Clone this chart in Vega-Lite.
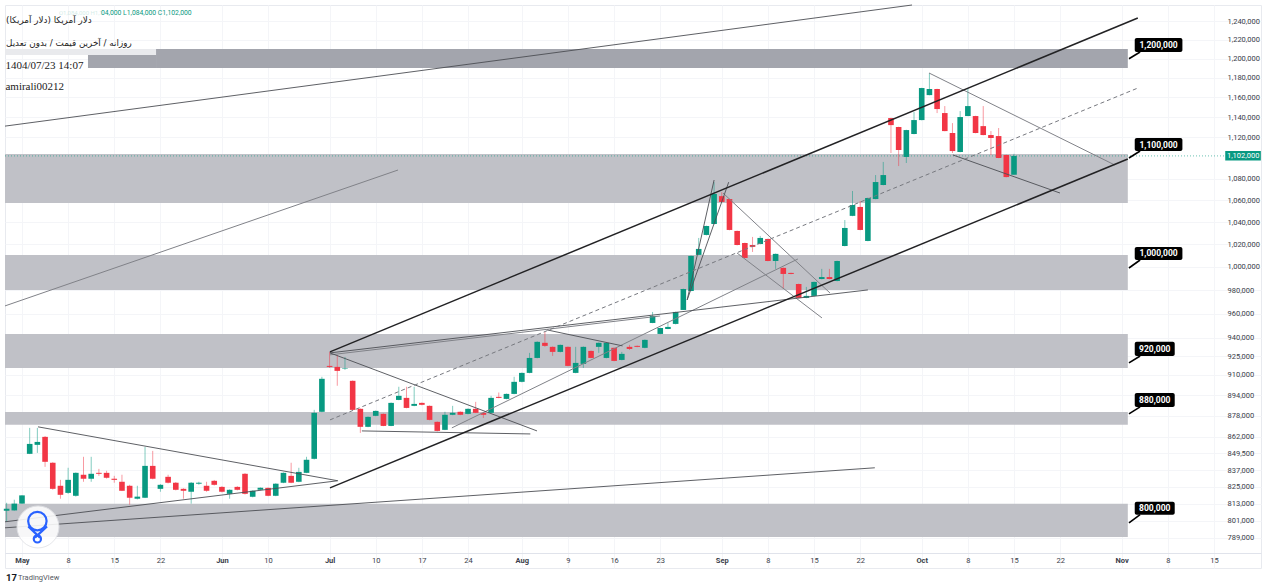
{
  "$schema": "https://vega.github.io/schema/vega-lite/v6.json",
  "description": "USD/IRR daily candles with price zones and trend channels",
  "width": 1256,
  "height": 563,
  "autosize": "none",
  "padding": {"left": 5, "top": 5, "right": 6, "bottom": 20},
  "background": "white",
  "config": {"view": {"stroke": "#e8eaef"}},
  "datasets": {
    "candles": [
      {"bar":-2,"open":808000,"high":813600,"low":800200,"close":809400},
      {"bar":-1,"open":808200,"high":815800,"low":808000,"close":813000},
      {"bar":0,"open":813000,"high":819000,"low":813000,"close":818900},
      {"bar":1,"open":849200,"high":868700,"low":849000,"close":856600},
      {"bar":2,"open":855900,"high":868700,"low":849900,"close":858100},
      {"bar":3,"open":861900,"high":862500,"low":839600,"close":843300},
      {"bar":4,"open":842600,"high":843000,"low":823000,"close":823600},
      {"bar":5,"open":825800,"high":830100,"low":816500,"close":819300},
      {"bar":6,"open":820700,"high":838900,"low":820000,"close":830100},
      {"bar":7,"open":818600,"high":835500,"low":818000,"close":835200},
      {"bar":8,"open":833800,"high":847000,"low":828700,"close":830900},
      {"bar":9,"open":830900,"high":847000,"low":828700,"close":834500},
      {"bar":10,"open":835200,"high":838100,"low":833000,"close":834500},
      {"bar":11,"open":835200,"high":836700,"low":831000,"close":831600},
      {"bar":12,"open":830900,"high":833000,"low":828000,"close":830100},
      {"bar":13,"open":828700,"high":833800,"low":822000,"close":822200},
      {"bar":14,"open":825800,"high":826500,"low":812300,"close":817200},
      {"bar":15,"open":816500,"high":825800,"low":816000,"close":818000},
      {"bar":16,"open":817200,"high":854400,"low":817000,"close":840300},
      {"bar":17,"open":840300,"high":851400,"low":830500,"close":830900},
      {"bar":18,"open":823600,"high":827000,"low":821500,"close":826500},
      {"bar":19,"open":832300,"high":833800,"low":827500,"close":828000},
      {"bar":20,"open":828000,"high":828500,"low":822500,"close":822900},
      {"bar":21,"open":823600,"high":824000,"low":816500,"close":822200},
      {"bar":22,"open":821500,"high":828500,"low":813000,"close":828000},
      {"bar":23,"open":827300,"high":828700,"low":826500,"close":828000},
      {"bar":24,"open":825800,"high":828700,"low":821500,"close":822200},
      {"bar":25,"open":829400,"high":830000,"low":826000,"close":826500},
      {"bar":26,"open":825000,"high":825500,"low":821000,"close":821500},
      {"bar":27,"open":820000,"high":823200,"low":816500,"close":822900},
      {"bar":28,"open":825000,"high":825500,"low":822500,"close":822900},
      {"bar":29,"open":834500,"high":835000,"low":819500,"close":820000},
      {"bar":30,"open":817900,"high":822500,"low":817500,"close":822200},
      {"bar":31,"open":822900,"high":824600,"low":822600,"close":824300},
      {"bar":32,"open":824300,"high":824600,"low":818300,"close":818600},
      {"bar":33,"open":818600,"high":827600,"low":818300,"close":827300},
      {"bar":34,"open":828000,"high":835500,"low":827700,"close":835200},
      {"bar":35,"open":833000,"high":842600,"low":827700,"close":828000},
      {"bar":36,"open":828700,"high":838900,"low":828400,"close":835900},
      {"bar":37,"open":835200,"high":847000,"low":835000,"close":844800},
      {"bar":38,"open":845500,"high":882500,"low":845000,"close":880200},
      {"bar":39,"open":881000,"high":908400,"low":880700,"close":906800},
      {"bar":40,"open":917100,"high":928400,"low":915500,"close":916300},
      {"bar":41,"open":916300,"high":925900,"low":901300,"close":913100},
      {"bar":42,"open":914700,"high":924300,"low":913900,"close":915100},
      {"bar":43,"open":905200,"high":905500,"low":882200,"close":882500},
      {"bar":44,"open":883300,"high":883600,"low":864900,"close":869500},
      {"bar":45,"open":869500,"high":877400,"low":869200,"close":877100},
      {"bar":46,"open":877900,"high":882000,"low":877600,"close":881700},
      {"bar":47,"open":879400,"high":879700,"low":870000,"close":870200},
      {"bar":48,"open":870200,"high":888200,"low":870000,"close":887900},
      {"bar":49,"open":890200,"high":900500,"low":890000,"close":893400},
      {"bar":50,"open":891800,"high":900500,"low":883700,"close":884000},
      {"bar":51,"open":885600,"high":900500,"low":885300,"close":887100},
      {"bar":52,"open":887900,"high":888200,"low":886000,"close":886400},
      {"bar":53,"open":885600,"high":885900,"low":874500,"close":874800},
      {"bar":54,"open":873300,"high":873600,"low":866000,"close":866400},
      {"bar":55,"open":867200,"high":881000,"low":867000,"close":878700},
      {"bar":56,"open":878700,"high":885600,"low":878400,"close":880200},
      {"bar":57,"open":881000,"high":881300,"low":878400,"close":878700},
      {"bar":58,"open":879400,"high":883600,"low":879000,"close":883300},
      {"bar":59,"open":883300,"high":888700,"low":880000,"close":880200},
      {"bar":60,"open":880200,"high":880500,"low":876300,"close":878700},
      {"bar":61,"open":880200,"high":893400,"low":880000,"close":891800},
      {"bar":62,"open":892600,"high":896000,"low":891500,"close":891800},
      {"bar":63,"open":891000,"high":895200,"low":890700,"close":894900},
      {"bar":64,"open":894900,"high":908400,"low":894600,"close":904400},
      {"bar":65,"open":904400,"high":911800,"low":904000,"close":911500},
      {"bar":66,"open":911500,"high":927600,"low":911200,"close":923500},
      {"bar":67,"open":923500,"high":937000,"low":923200,"close":936600},
      {"bar":68,"open":935800,"high":944700,"low":932500,"close":933300},
      {"bar":69,"open":932500,"high":932800,"low":925100,"close":928400},
      {"bar":70,"open":928400,"high":934400,"low":928000,"close":934100},
      {"bar":71,"open":932500,"high":932800,"low":916800,"close":917100},
      {"bar":72,"open":911500,"high":932500,"low":911200,"close":919500},
      {"bar":73,"open":918700,"high":932800,"low":915500,"close":932500},
      {"bar":74,"open":929200,"high":929500,"low":923200,"close":923500},
      {"bar":75,"open":932500,"high":936100,"low":927600,"close":935800},
      {"bar":76,"open":923500,"high":936100,"low":923200,"close":935800},
      {"bar":77,"open":931700,"high":932000,"low":920800,"close":921100},
      {"bar":78,"open":921900,"high":928400,"low":921600,"close":926800},
      {"bar":79,"open":932500,"high":934100,"low":930000,"close":930800},
      {"bar":80,"open":933300,"high":933600,"low":932200,"close":932500},
      {"bar":81,"open":931700,"high":938500,"low":931400,"close":938200},
      {"bar":82,"open":952200,"high":961400,"low":952000,"close":958000},
      {"bar":83,"open":943100,"high":948300,"low":942800,"close":948000},
      {"bar":84,"open":947200,"high":952200,"low":947000,"close":948900},
      {"bar":85,"open":951400,"high":961700,"low":951000,"close":961400},
      {"bar":86,"open":963100,"high":981200,"low":963000,"close":980900},
      {"bar":87,"open":979200,"high":1010000,"low":979000,"close":1009700},
      {"bar":88,"open":1010600,"high":1025700,"low":1010300,"close":1015900},
      {"bar":89,"open":1028400,"high":1036800,"low":1028000,"close":1036500},
      {"bar":90,"open":1038300,"high":1077000,"low":1038000,"close":1066000},
      {"bar":91,"open":1063900,"high":1067600,"low":1058000,"close":1058500},
      {"bar":92,"open":1061200,"high":1061500,"low":1032600,"close":1032900},
      {"bar":93,"open":1032000,"high":1032300,"low":1019000,"close":1019400},
      {"bar":94,"open":1021200,"high":1021500,"low":1007500,"close":1007900},
      {"bar":95,"open":1019400,"high":1026600,"low":1013200,"close":1017700},
      {"bar":96,"open":1020300,"high":1027500,"low":1020000,"close":1025700},
      {"bar":97,"open":1024800,"high":1025100,"low":1005000,"close":1005200},
      {"bar":98,"open":1005200,"high":1011800,"low":998300,"close":1011500},
      {"bar":99,"open":999200,"high":999500,"low":981000,"close":993900},
      {"bar":100,"open":994800,"high":995000,"low":993600,"close":993900},
      {"bar":101,"open":985200,"high":985500,"low":973000,"close":973300},
      {"bar":102,"open":973300,"high":982700,"low":973000,"close":975000},
      {"bar":103,"open":975000,"high":987300,"low":974700,"close":987000},
      {"bar":104,"open":989500,"high":998300,"low":989200,"close":991200},
      {"bar":105,"open":991200,"high":998300,"low":989200,"close":989500},
      {"bar":106,"open":987800,"high":1005500,"low":987500,"close":1005200},
      {"bar":107,"open":1018500,"high":1041900,"low":1018200,"close":1034700},
      {"bar":108,"open":1045700,"high":1068700,"low":1045400,"close":1055700},
      {"bar":109,"open":1053900,"high":1059400,"low":1032600,"close":1032900},
      {"bar":110,"open":1023000,"high":1062500,"low":1022700,"close":1062200},
      {"bar":111,"open":1061200,"high":1083700,"low":1061000,"close":1077100},
      {"bar":112,"open":1074300,"high":1096200,"low":1074000,"close":1083700},
      {"bar":113,"open":1139100,"high":1139400,"low":1104800,"close":1132100},
      {"bar":114,"open":1130200,"high":1130500,"low":1092300,"close":1107700},
      {"bar":115,"open":1101000,"high":1127500,"low":1095200,"close":1127200},
      {"bar":116,"open":1123300,"high":1145100,"low":1123000,"close":1137100},
      {"bar":117,"open":1137100,"high":1169700,"low":1136800,"close":1169400},
      {"bar":118,"open":1162200,"high":1184900,"low":1162000,"close":1168400},
      {"bar":119,"open":1168400,"high":1168700,"low":1144100,"close":1148100},
      {"bar":120,"open":1144100,"high":1151100,"low":1126000,"close":1126200},
      {"bar":121,"open":1124300,"high":1134100,"low":1104800,"close":1106700},
      {"bar":122,"open":1105800,"high":1146100,"low":1105500,"close":1140100},
      {"bar":123,"open":1141100,"high":1169400,"low":1141000,"close":1151100},
      {"bar":124,"open":1141100,"high":1141400,"low":1124000,"close":1124300},
      {"bar":125,"open":1131100,"high":1151100,"low":1122000,"close":1122300},
      {"bar":126,"open":1122300,"high":1126200,"low":1102900,"close":1119400},
      {"bar":127,"open":1121300,"high":1129200,"low":1099800,"close":1100000},
      {"bar":128,"open":1102900,"high":1103200,"low":1081500,"close":1081800},
      {"bar":129,"open":1084000,"high":1104000,"low":1084000,"close":1102000}
    ],
    "zones": [
      {"bar":17.43,"bar_end":143.8,"price":1210000,"price_end":1190000,"shade":"strong"},
      {"bar":8.58,"bar_end":17.43,"price":1203700,"price_end":1190000,"shade":"strong"},
      {"bar":-2.21,"bar_end":17.43,"price":1210000,"price_end":1203700,"shade":"faint"},
      {"bar":-2.21,"bar_end":143.8,"price":1103900,"price_end":1057500,"shade":"normal"},
      {"bar":-2.21,"bar_end":143.8,"price":1010600,"price_end":980000,"shade":"normal"},
      {"bar":-2.21,"bar_end":143.8,"price":943000,"price_end":915400,"shade":"normal"},
      {"bar":-2.21,"bar_end":143.8,"price":880900,"price_end":871000,"shade":"normal"},
      {"bar":-2.21,"bar_end":143.8,"price":813000,"price_end":789700,"shade":"normal"}
    ],
    "lines": [
      {"line":"a","kind":"thin","bar":-2.21,"price":1131100},
      {"line":"a","kind":"thin","bar":115.74,"price":1257500},
      {"line":"b","kind":"pale","bar":-2.21,"price":966500},
      {"line":"b","kind":"pale","bar":48.9,"price":1088500},
      {"line":"c","kind":"channel","bar":40.05,"price":928400},
      {"line":"c","kind":"channel","bar":145.1,"price":1243300},
      {"line":"d","kind":"channel","bar":40.05,"price":824300},
      {"line":"d","kind":"channel","bar":143.8,"price":1099000},
      {"line":"e","kind":"median","bar":40.05,"price":874800},
      {"line":"e","kind":"median","bar":145.1,"price":1169400},
      {"line":"f","kind":"thin","bar":-2.21,"price":800200},
      {"line":"f","kind":"thin","bar":41,"price":829400},
      {"line":"g","kind":"thin","bar":-2.21,"price":796000},
      {"line":"g","kind":"thin","bar":110.9,"price":838900},
      {"line":"h","kind":"thin","bar":2.08,"price":869500},
      {"line":"h","kind":"thin","bar":41.1,"price":829400},
      {"line":"i","kind":"thin","bar":40.05,"price":927600},
      {"line":"i","kind":"thin","bar":66.97,"price":866400},
      {"line":"j","kind":"thin","bar":40.05,"price":927600},
      {"line":"j","kind":"thin","bar":110,"price":980100},
      {"line":"k","kind":"pale","bar":40.05,"price":926000},
      {"line":"k","kind":"pale","bar":82.96,"price":958000},
      {"line":"l","kind":"thin","bar":44.2,"price":866400},
      {"line":"l","kind":"thin","bar":66.1,"price":864100},
      {"line":"m","kind":"thin","bar":68.3,"price":946400},
      {"line":"m","kind":"thin","bar":78.1,"price":933300},
      {"line":"n","kind":"pale","bar":55.9,"price":868700},
      {"line":"n","kind":"pale","bar":100.9,"price":1007000},
      {"line":"o","kind":"thin","bar":86.5,"price":971600},
      {"line":"o","kind":"thin","bar":90,"price":1079000},
      {"line":"p","kind":"thin","bar":86.5,"price":971600},
      {"line":"p","kind":"thin","bar":91.9,"price":1077000},
      {"line":"q","kind":"pale","bar":91.16,"price":1066800},
      {"line":"q","kind":"pale","bar":105.07,"price":977500},
      {"line":"r","kind":"pale","bar":92.98,"price":1012300},
      {"line":"r","kind":"pale","bar":104.03,"price":956400},
      {"line":"s","kind":"pale","bar":117.95,"price":1184900},
      {"line":"s","kind":"pale","bar":142.1,"price":1093300},
      {"line":"t","kind":"thin","bar":121.06,"price":1102900},
      {"line":"t","kind":"thin","bar":134.98,"price":1066800},
      {"line":"u","kind":"callout","bar":143.95,"price":1199700},
      {"line":"u","kind":"callout","bar":145.4,"price":1206800},
      {"line":"v","kind":"callout","bar":143.95,"price":1100000},
      {"line":"v","kind":"callout","bar":145.4,"price":1106700},
      {"line":"w","kind":"callout","bar":143.95,"price":999100},
      {"line":"w","kind":"callout","bar":145.4,"price":1006100},
      {"line":"x","kind":"callout","bar":143.95,"price":919500},
      {"line":"x","kind":"callout","bar":145.4,"price":925100},
      {"line":"y","kind":"callout","bar":143.95,"price":879400},
      {"line":"y","kind":"callout","bar":145.4,"price":884800},
      {"line":"z","kind":"callout","bar":143.95,"price":799500},
      {"line":"z","kind":"callout","bar":145.4,"price":805200}
    ],
    "tags": [
      {"bar":144.7,"bar_end":150.9,"price":1221700,"price_end":1206800},
      {"bar":144.7,"bar_end":150.9,"price":1119300,"price_end":1106700},
      {"bar":144.7,"bar_end":150.9,"price":1017700,"price_end":1006100},
      {"bar":144.7,"bar_end":149.9,"price":936600,"price_end":925100},
      {"bar":144.7,"bar_end":149.9,"price":895700,"price_end":884800},
      {"bar":144.7,"bar_end":149.9,"price":814400,"price_end":805200}
    ],
    "tag_labels": [
      {"label":"1,200,000","bar":147.8,"price":1214200},
      {"label":"1,100,000","bar":147.8,"price":1113000},
      {"label":"1,000,000","bar":147.8,"price":1011900},
      {"label":"920,000","bar":147.3,"price":930800},
      {"label":"880,000","bar":147.3,"price":890200},
      {"label":"800,000","bar":147.3,"price":809800}
    ],
    "logo": [
      {"part":"left","bar":0.82,"price":797000},
      {"part":"left","bar":2.34,"price":789200},
      {"part":"right","bar":3.25,"price":797000},
      {"part":"right","bar":1.69,"price":789200}
    ]
  },
  "encoding": {
    "x": {
      "field": "bar",
      "type": "quantitative",
      "title": null,
      "scale": {"domain": [-2.21, 161.12], "nice": false, "zero": false, "padding": 0},
      "axis": {
        "orient": "bottom",
        "offset": -15,
        "values": [0,6,12,18,26,32,40,46,52,58,65,71,77,83,91,97,103,109,117,123,129,135,143,149,155],
        "labelExpr": "{'0':'May','6':'8','12':'15','18':'22','26':'Jun','32':'10','40':'Jul','46':'10','52':'17','58':'24','65':'Aug','71':'9','77':'16','83':'23','91':'Sep','97':'8','103':'15','109':'22','117':'Oct','123':'8','129':'15','135':'22','143':'Nov','149':'8','155':'15'}[datum.value]",
        "labelFontWeight": {"condition": {"test": "indexof([0,26,40,65,91,117,143], datum.value) >= 0", "value": "bold"}, "value": "normal"},
        "labelFont": "Roboto",
        "labelFontSize": 7.5,
        "labelColor": "#3a3e4a",
        "labelPadding": 3,
        "labelFlush": false,
        "ticks": false,
        "domainColor": "#e0e3eb",
        "grid": true,
        "gridColor": "#f4f5f8"
      }
    },
    "y": {
      "field": "price",
      "type": "quantitative",
      "title": null,
      "scale": {"type": "log", "domain": [768500, 1257500], "nice": false, "zero": false},
      "axis": {
        "orient": "right",
        "offset": -39,
        "values": [1240000,1220000,1200000,1180000,1160000,1140000,1120000,1080000,1060000,1040000,1020000,1000000,980000,960000,940000,925000,910000,894000,878000,862000,849500,837000,825000,813000,801000,789000],
        "format": ",",
        "labelFont": "Roboto",
        "labelFontSize": 7.5,
        "labelColor": "#3a3e4a",
        "labelPadding": 5,
        "ticks": false,
        "domain": false,
        "grid": true,
        "gridColor": "#f4f5f8"
      }
    }
  },
  "layer": [
    {
      "data": {"name": "zones"},
      "mark": {"type": "rect"},
      "encoding": {
        "x2": {"field": "bar_end"},
        "y2": {"field": "price_end"},
        "color": {
          "field": "shade",
          "type": "nominal",
          "legend": null,
          "scale": {"domain": ["strong", "normal", "faint"], "range": ["#a3a5ad", "#c0c1c7", "#e9eaed"]}
        }
      }
    },
    {
      "data": {"values": [{"bar": -2.21, "bar_end": 156.5, "price": 1102000}]},
      "mark": {"type": "rule", "color": "#089981", "opacity": 0.6, "strokeWidth": 1, "strokeDash": [1, 2]},
      "encoding": {"x2": {"field": "bar_end"}}
    },
    {
      "data": {"name": "candles"},
      "mark": {"type": "rule", "strokeWidth": 1, "opacity": 0.5},
      "encoding": {
        "y": {"field": "low", "type": "quantitative", "title": null, "scale": {"type": "log", "domain": [768500, 1257500], "nice": false, "zero": false}},
        "y2": {"field": "high"},
        "color": {"condition": {"test": "datum.close >= datum.open", "value": "#089981"}, "value": "#f23645"}
      }
    },
    {
      "data": {"name": "candles"},
      "mark": {"type": "bar", "size": 5.6},
      "encoding": {
        "y": {"field": "open", "type": "quantitative", "title": null, "scale": {"type": "log", "domain": [768500, 1257500], "nice": false, "zero": false}},
        "y2": {"field": "close"},
        "color": {"condition": {"test": "datum.close >= datum.open", "value": "#089981"}, "value": "#f23645"}
      }
    },
    {
      "data": {"name": "lines"},
      "transform": [{"filter": "datum.kind === 'pale'"}],
      "mark": {"type": "line", "color": "#808288", "strokeWidth": 1},
      "encoding": {"detail": {"field": "line"}}
    },
    {
      "data": {"name": "lines"},
      "transform": [{"filter": "datum.kind === 'thin'"}],
      "mark": {"type": "line", "color": "#4c4e54", "strokeWidth": 0.9},
      "encoding": {"detail": {"field": "line"}}
    },
    {
      "data": {"name": "lines"},
      "transform": [{"filter": "datum.kind === 'median'"}],
      "mark": {"type": "line", "color": "#77797f", "strokeWidth": 1, "strokeDash": [4, 3]},
      "encoding": {"detail": {"field": "line"}}
    },
    {
      "data": {"name": "lines"},
      "transform": [{"filter": "datum.kind === 'channel'"}],
      "mark": {"type": "line", "color": "#222224", "strokeWidth": 1.5},
      "encoding": {"detail": {"field": "line"}}
    },
    {
      "data": {"name": "lines"},
      "transform": [{"filter": "datum.kind === 'callout'"}],
      "mark": {"type": "line", "color": "#000000", "strokeWidth": 1.6},
      "encoding": {"detail": {"field": "line"}}
    },
    {
      "data": {"name": "tags"},
      "mark": {"type": "rect", "color": "#000000", "cornerRadius": 2},
      "encoding": {"x2": {"field": "bar_end"}, "y2": {"field": "price_end"}}
    },
    {
      "data": {"name": "tag_labels"},
      "mark": {"type": "text", "color": "white", "font": "Roboto", "fontWeight": "bold", "fontSize": 8.5, "align": "center", "baseline": "middle"},
      "encoding": {"text": {"field": "label"}}
    },
    {
      "data": {"values": [{"bar": 156.47, "bar_end": 161.1, "price": 1106800, "price_end": 1097500}]},
      "mark": {"type": "rect", "color": "#089981"},
      "encoding": {"x2": {"field": "bar_end"}, "y2": {"field": "price_end"}}
    },
    {
      "data": {"values": [{"bar": 158.8, "price": 1102000, "label": "1,102,000"}]},
      "mark": {"type": "text", "color": "white", "font": "Roboto", "fontSize": 7.5, "align": "center", "baseline": "middle"},
      "encoding": {"text": {"field": "label"}}
    },
    {
      "data": {"values": [
        {"bar": -2.08, "price": 1241100, "label": "دلار آمریکا (دلار آمریکا)"},
        {"bar": -2.08, "price": 1216400, "label": "روزانه / آخرین قیمت / بدون تعدیل"}
      ]},
      "mark": {"type": "text", "color": "#222222", "font": "DejaVu Sans", "fontSize": 8.8, "align": "left", "baseline": "middle"},
      "encoding": {"text": {"field": "label"}}
    },
    {
      "data": {"values": [
        {"bar": -2.15, "price": 1192100, "label": "1404/07/23 14:07"},
        {"bar": -2.15, "price": 1170500, "label": "amirali00212"}
      ]},
      "mark": {"type": "text", "color": "#222222", "font": "Liberation Serif", "fontSize": 11, "align": "left", "baseline": "middle"},
      "encoding": {"text": {"field": "label"}}
    },
    {
      "data": {"values": [{"bar": 4.8, "price": 1248700, "label": "O1,084,000 H1,1"}]},
      "mark": {"type": "text", "color": "#089981", "opacity": 0.18, "font": "Roboto", "fontSize": 6, "align": "left", "baseline": "middle"},
      "encoding": {"text": {"field": "label"}}
    },
    {
      "data": {"values": [{"bar": 10.27, "price": 1248700, "label": "04,000  L1,084,000  C1,102,000"}]},
      "mark": {"type": "text", "color": "#089981", "font": "Roboto", "fontSize": 6.8, "align": "left", "baseline": "middle"},
      "encoding": {"text": {"field": "label"}}
    },
    {
      "data": {"values": [{"bar": 2.08, "price": 796600}]},
      "mark": {"type": "point", "filled": true, "size": 1764, "color": "white", "opacity": 0.88, "stroke": "#e3e4e8", "strokeWidth": 1}
    },
    {
      "data": {"values": [{"bar": 2.0, "price": 800700, "ring": "large"}]},
      "mark": {"type": "point", "filled": false, "size": 340, "color": "#2962ff", "strokeWidth": 2.2, "opacity": 1}
    },
    {
      "data": {"values": [{"bar": 2.0, "price": 788300, "ring": "small"}]},
      "mark": {"type": "point", "filled": false, "size": 52, "color": "#2962ff", "strokeWidth": 2.2, "opacity": 1}
    },
    {
      "data": {"name": "logo"},
      "mark": {"type": "line", "color": "#2962ff", "strokeWidth": 2.2},
      "encoding": {"detail": {"field": "part"}}
    },
    {
      "data": {"values": [{"bar": -2.08, "price": 761800, "label": "17"}]},
      "mark": {"type": "text", "color": "#131722", "font": "Roboto", "fontWeight": "bold", "fontSize": 9.5, "align": "left", "baseline": "middle"},
      "encoding": {"text": {"field": "label"}}
    },
    {
      "data": {"values": [{"bar": -0.52, "price": 761800, "label": "TradingView"}]},
      "mark": {"type": "text", "color": "#555862", "font": "Roboto", "fontSize": 7.5, "align": "left", "baseline": "middle"},
      "encoding": {"text": {"field": "label"}}
    }
  ]
}
